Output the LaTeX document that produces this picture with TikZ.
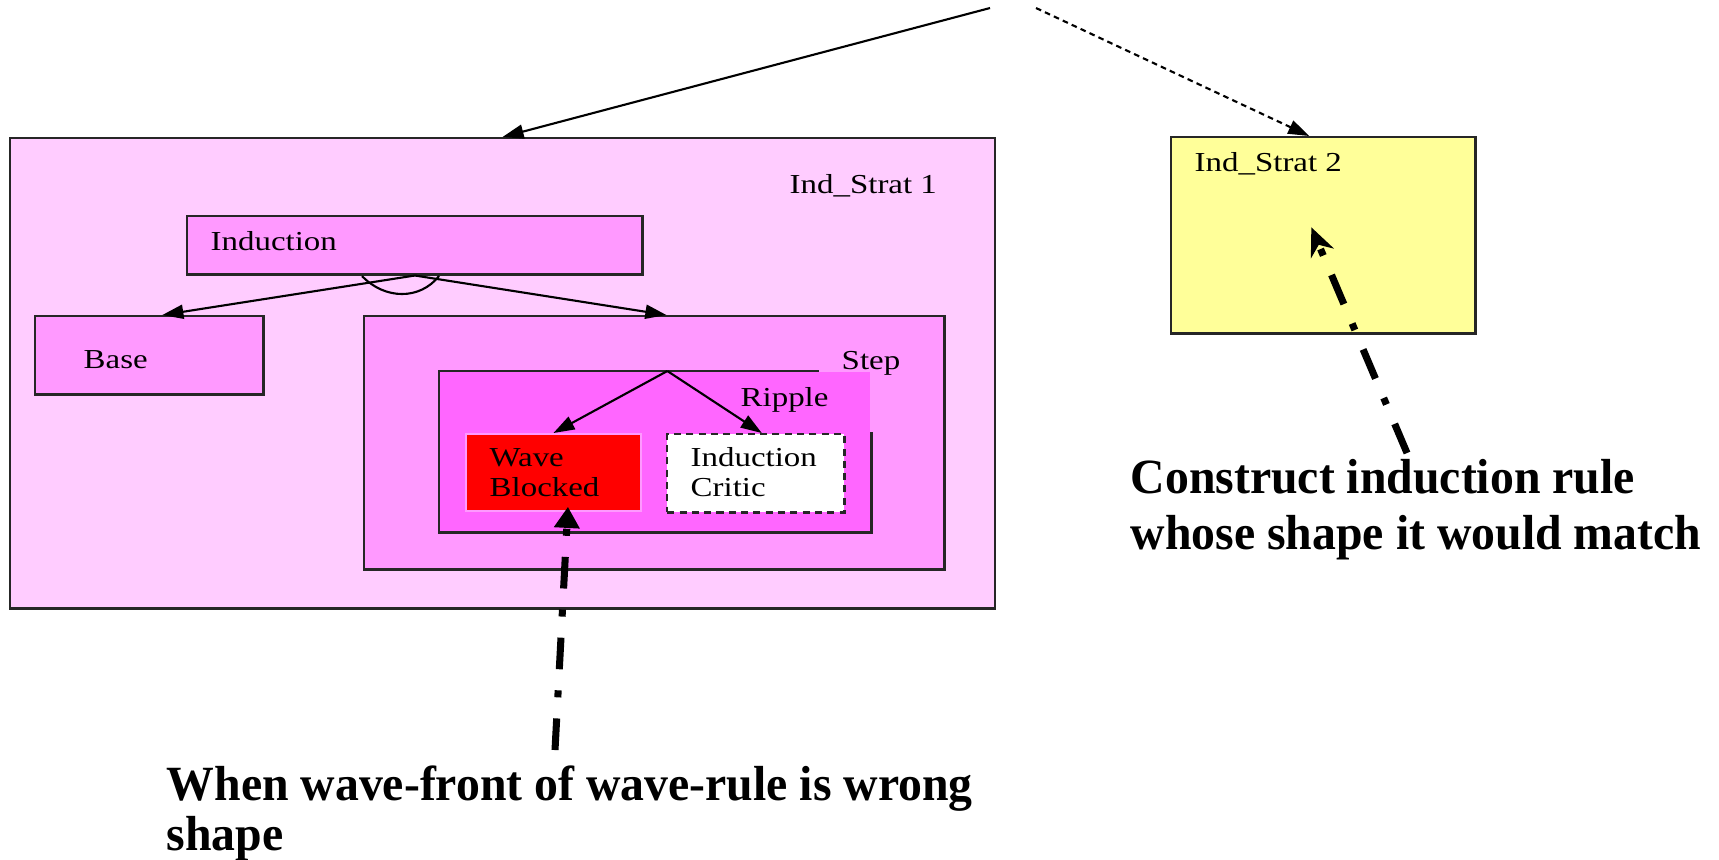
\documentclass[tikz,border=0pt]{standalone}
\usepackage{fontspec}
\setmainfont{Liberation Serif}
\newfontfamily\boxfont[FakeStretch=1.2]{Liberation Serif}
\newfontfamily\notefont[FakeStretch=0.97]{Liberation Serif}
\usepackage{xcolor}
\usepackage{tikz}
\usetikzlibrary{arrows.meta, positioning, calc}

\definecolor{stratpink}{HTML}{FFCCFF}
\definecolor{methpink}{HTML}{FF99FF}
\definecolor{ripplepink}{HTML}{FF66FF}
\definecolor{stratyellow}{HTML}{FFFF99}

\begin{document}
\begin{tikzpicture}[
    x=0.01cm, y=-0.01cm,
    box/.style={draw=black!85, line width=0.7pt, inner sep=0pt, anchor=north west},
    boxlabel/.style={inner sep=0pt, anchor=base west, align=left, font=\boxfont\fontsize{7.8}{8.5}\selectfont},
    note/.style={inner sep=0pt, anchor=base west, align=left, font=\notefont\bfseries\fontsize{14}{15.9}\selectfont},
    edge/.style={-{Triangle[length=6pt,width=4pt]}, line width=0.6pt},
    hint/.style={line width=2pt, dash pattern=on 9pt off 6pt on 2pt off 6pt},
]
\useasboundingbox (0,0) rectangle (1719,859);

% Strategies
\node[box, fill=stratpink, minimum width=9.84cm, minimum height=4.70cm] (is1) at (9,137) {};
\node[boxlabel] (is1lbl) at (789,193) {Ind\_Strat 1};
\node[box, fill=stratyellow, minimum width=3.04cm, minimum height=1.96cm] (is2) at (1170,136) {};
\node[boxlabel] (is2lbl) at (1194,171) {Ind\_Strat 2};

% Methods inside Ind_Strat 1
\node[box, fill=methpink, minimum width=4.55cm, minimum height=0.58cm] (ind) at (186,215) {};
\node[boxlabel] (indlbl) at (210,250) {Induction};
\node[box, fill=methpink, minimum width=2.28cm, minimum height=0.78cm] (base) at (34,315) {};
\node[boxlabel] (baselbl) at (83,368) {Base};
\node[box, fill=methpink, minimum width=5.80cm, minimum height=2.53cm] (step) at (363,315) {};
\node[boxlabel] (steplbl) at (841,369) {Step};
\node[box, draw=none, fill=ripplepink, minimum width=4.30cm, minimum height=1.59cm] (rip) at (439,371) {};
\draw[line width=0.7pt, black!85] ([xshift=-0.53cm]rip.north east) -- (rip.north west)
    -- (rip.south west) -- (rip.south east) -- ([yshift=-0.61cm]rip.north east);
\node[boxlabel] (riplbl) at (740,406) {Ripple};
\node[box, draw=methpink, line width=0.5pt, fill=red, minimum width=1.75cm, minimum height=0.77cm] (wave) at (465,433) {};
\node[boxlabel] (wavelbl) at (489,496) {Wave\\Blocked};
\node[box, dash pattern=on 2pt off 1.5pt, fill=white, minimum width=1.77cm, minimum height=0.78cm] (crit) at (666,433) {};
\node[boxlabel] (critlbl) at (690,496) {Induction\\Critic};

% Edges
\coordinate (src1) at (990,8);
\coordinate (src2) at (1036,8);
\draw[edge] (src1) -- (is1.north);
\draw[edge, dash pattern=on 1.6pt off 1.2pt] (src2) -- ([xshift=-0.14cm]is2.north);
\draw[edge] (ind.south) -- ([xshift=0.13cm]base.north);
\draw[edge] (ind.south) -- ([xshift=0.12cm]step.north);
\draw[line width=0.6pt] (362,276) .. controls (385,300) and (420,300) .. (439,276);
\draw[edge] ([xshift=0.12cm]rip.north) -- (wave.north);
\draw[edge] ([xshift=0.12cm]rip.north) -- ([xshift=0.06cm]crit.north);

% Notes
\node[note] (conslbl) at (1130,549) {Construct induction rule\\whose shape it would match};
\node[note, font=\notefont\bfseries\fontsize{14}{14.2}\selectfont] (whenlbl) at (166,850) {When wave-front of wave-rule is wrong\\shape};
\coordinate (constail) at (1407,453);
\coordinate (whentail) at (555,750);
\draw[hint, -{Stealth[length=8pt,width=7pt]}] (constail) -- ([xshift=-0.12cm,yshift=0.08cm]is2.center);
\draw[hint, -{Triangle[length=6pt,width=7pt]}] (whentail) -- ([xshift=0.145cm,yshift=0.05cm]wave.south);

\end{tikzpicture}
\end{document}
